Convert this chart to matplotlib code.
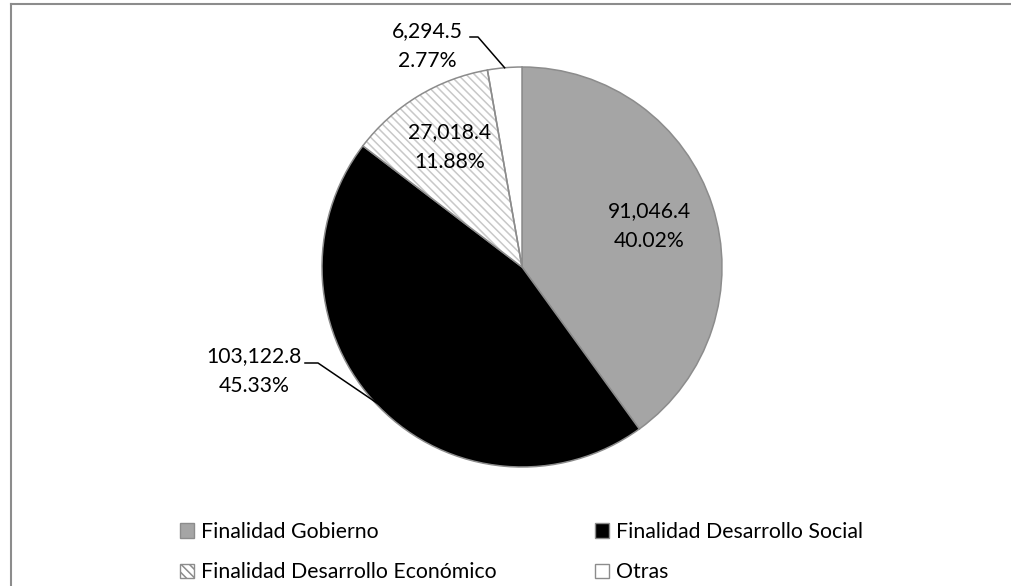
import numpy as np
import matplotlib
matplotlib.use("Agg")
import matplotlib.pyplot as plt
from matplotlib.patches import Wedge, Patch
from matplotlib.lines import Line2D

plt.rcParams['font.family'] = ['Lato', 'DejaVu Sans']
plt.rcParams['hatch.linewidth'] = 1.1

categories = ["Finalidad Gobierno", "Finalidad Desarrollo Social",
              "Finalidad Desarrollo Económico", "Otras"]
values = [91046.4, 103122.8, 27018.4, 6294.5]
colors = ["#a5a5a5", "#000000", "#ffffff", "#ffffff"]
edge = "#8c8c8c"
hatch_color = "#c8c8c8"
hatch = "\\\\\\\\"

W, H = 1012, 586
fig = plt.figure(figsize=(W / 100, H / 100), dpi=100)
fig.patch.set_facecolor("white")

cx, cy, R = 522, 267, 200
ax = fig.add_axes([(cx - R) / W, (H - cy - R) / H, 2 * R / W, 2 * R / H])
wedges, _ = ax.pie(values, colors=colors, startangle=90, counterclock=False,
                   radius=1, wedgeprops=dict(edgecolor=edge, linewidth=1.1))
ax.set_xlim(-1, 1)
ax.set_ylim(-1, 1)
ax.set_aspect('auto')
ax.axis('off')

# hatched wedge (Económico)
w = wedges[2]
w.set_edgecolor(hatch_color)
w.set_linewidth(0)
w.set_hatch(hatch)
ax.add_patch(Wedge(w.center, w.r, w.theta1, w.theta2, fill=False,
                   edgecolor=edge, linewidth=1.1, zorder=w.get_zorder() + 0.1))

total = sum(values)
labels = [f"{v:,.1f}\n{v / total * 100:.2f}%" for v in values]
mids = [np.deg2rad((wd.theta1 + wd.theta2) / 2) for wd in wedges]
fs = 15.2
ls = 1.62

# inside labels
for i, r in [(0, 0.67), (2, 0.70)]:
    a = mids[i]
    ax.text(r * np.cos(a), r * np.sin(a), labels[i], ha='center', va='center',
            fontsize=fs, linespacing=ls, color='black')

# Social outside label with leader
a = mids[1]
ex, ey = np.cos(a), np.sin(a)
ax.text(-1.34, -0.52, labels[1], ha='center', va='center', fontsize=fs,
        linespacing=ls, color='black', clip_on=False)
ax.add_line(Line2D([-1.085, -1.02, ex * 0.99], [-0.48, -0.48, ey * 0.99],
                   color='black', linewidth=1.1, clip_on=False, zorder=5))

# Otras outside label with leader
a = mids[3]
ex, ey = np.cos(a), np.sin(a)
ax.text(-0.475, 1.105, labels[3], ha='center', va='center', fontsize=fs,
        linespacing=ls, color='black', clip_on=False)
ax.add_line(Line2D([-0.26, -0.22, ex * 1.0], [1.15, 1.15, ey * 1.0],
                   color='black', linewidth=1.1, clip_on=False, zorder=5))

# legend (row-wise order: Gobierno, Social / Económico, Otras)
def handle(i):
    if i == 2:
        return Patch(facecolor="white", edgecolor=edge, linewidth=1, hatch=hatch)
    return Patch(facecolor=colors[i], edgecolor=edge, linewidth=1)

leg_kw = dict(loc='upper left', frameon=False, fontsize=15.3,
              handlelength=0.65, handleheight=0.65, handletextpad=0.33,
              labelspacing=0.95, borderpad=0, borderaxespad=0)
for col, xpx in [(0, 180), (1, 595)]:
    idx = [col, col + 2]
    lg = fig.legend([handle(i) for i in idx], [categories[i] for i in idx],
                    bbox_to_anchor=(xpx / W, 1 - 522 / H), **leg_kw)

# outer frame
fig.add_artist(Line2D([11 / W, 1.0], [1 - 4 / H, 1 - 4 / H], transform=fig.transFigure,
                      color=edge, linewidth=1.5))
fig.add_artist(Line2D([11 / W, 11 / W], [1 - 4 / H, 0], transform=fig.transFigure,
                      color=edge, linewidth=1.5))

fig.savefig("out.png", dpi=100, facecolor="white")
